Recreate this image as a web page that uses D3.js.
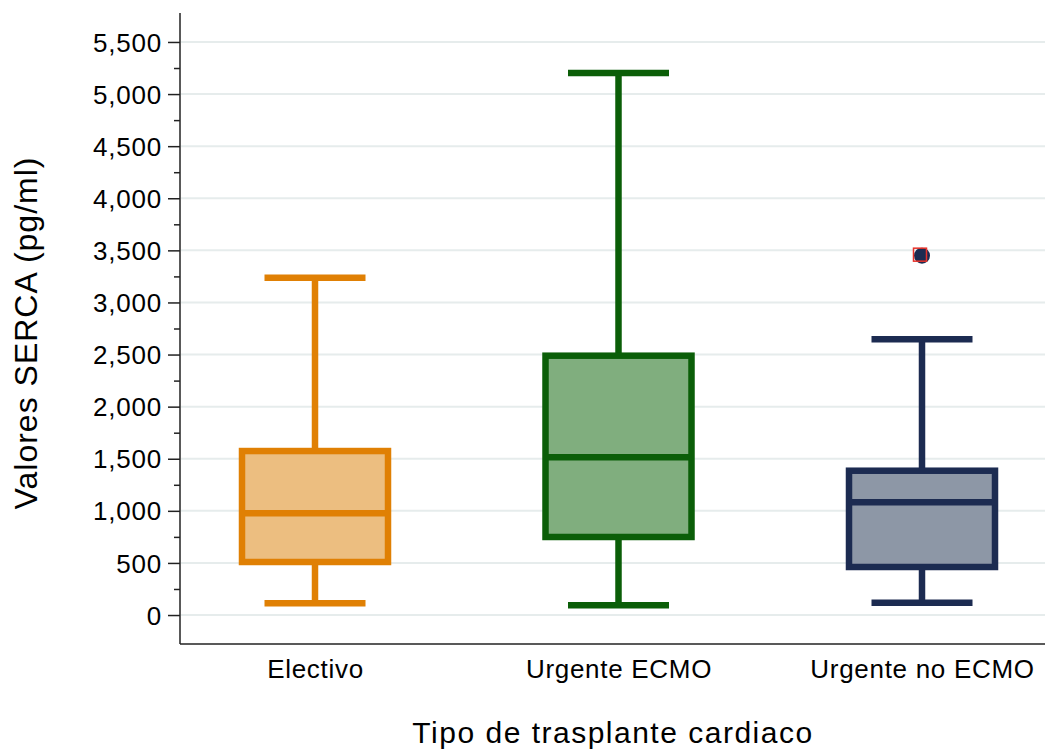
<!DOCTYPE html>
<html><head><meta charset="utf-8">
<script src="https://cdn.jsdelivr.net/npm/d3@7"></script>
<style>
body{margin:0;background:#fff;}
svg{display:block;font-family:"Liberation Sans",Arial,Helvetica,sans-serif;}
</style></head>
<body><svg id="c" width="1045" height="751"></svg>
<script>
const categories = ["Electivo", "Urgente ECMO", "Urgente no ECMO"];
const lowerWhisker = [112, 93, 118];
const q1 = [509, 749, 461];
const median = [976, 1514, 1082];
const q3 = [1574, 2489, 1385];
const upperWhisker = [3238, 5203, 2646];
const outliers = [[], [], [3449]];
const strokeColors = ["#E08004", "#0B5E08", "#1C2B51"];
const fillColors = ["#ECBE80", "#80AE7E", "#8D97A6"];
const yTicks = [0, 500, 1000, 1500, 2000, 2500, 3000, 3500, 4000, 4500, 5000, 5500];
const yMinorTicks = [250, 750, 1250, 1750, 2250, 2750, 3250, 3750, 4250, 4750, 5250];
const xTitle = "Tipo de trasplante cardiaco";
const yTitle = "Valores SERCA (pg/ml)";

const svg = d3.select("#c");
const mLeft = 180, mRight = 1045, mTop = 13, mBottom = 644;
const y = d3.scaleLinear().domain([-278, 5778]).range([mBottom, mTop]);
const x = d3.scalePoint().domain(categories).range([315, 922]);

// gridlines
svg.append("g").selectAll("line").data(yTicks).join("line")
  .attr("x1", mLeft + 1).attr("x2", mRight)
  .attr("y1", d => y(d)).attr("y2", d => y(d))
  .attr("stroke", "#e6ecec").attr("stroke-width", 2);

// y axis minor ticks
svg.append("g").attr("transform", `translate(${mLeft},0)`)
  .call(d3.axisLeft(y).tickValues(yMinorTicks).tickSize(6).tickFormat(""))
  .call(g => g.select(".domain").remove())
  .call(g => g.selectAll("line").attr("stroke", "#222").attr("stroke-width", 1.5));

// y axis major
svg.append("g").attr("transform", `translate(${mLeft},0)`)
  .call(d3.axisLeft(y).tickValues(yTicks).tickSize(12).tickPadding(6).tickFormat(d3.format(",")))
  .call(g => g.select(".domain").remove())
  .call(g => g.selectAll("line").attr("stroke", "#222").attr("stroke-width", 1.5))
  .call(g => g.selectAll("text").attr("font-size", 26).attr("fill", "#000")
    .attr("font-family", "'Liberation Sans',Arial,sans-serif").attr("letter-spacing", "0.8px").attr("dy", "0.35em"));

// axis lines
svg.append("line").attr("x1", mLeft).attr("x2", mLeft).attr("y1", mTop).attr("y2", mBottom)
  .attr("stroke", "#222").attr("stroke-width", 1.5);
svg.append("line").attr("x1", mLeft).attr("x2", mRight).attr("y1", mBottom).attr("y2", mBottom)
  .attr("stroke", "#222").attr("stroke-width", 1.5);

// x axis labels
svg.append("g").attr("transform", `translate(0,${mBottom})`)
  .call(d3.axisBottom(x).tickSize(0).tickPadding(16))
  .call(g => g.select(".domain").remove())
  .call(g => g.selectAll("text").attr("font-size", 26).attr("fill", "#000")
    .attr("font-family", "'Liberation Sans',Arial,sans-serif").attr("letter-spacing", "0.7px"));

// boxes
const boxW = 146, capW = 101, sw = 6.5;
const data = categories.map((c, i) => ({c, i}));
const gb = svg.append("g");
data.forEach(({c, i}) => {
  const cx = x(c);
  const g = gb.append("g");
  g.append("line").attr("x1", cx).attr("x2", cx).attr("y1", y(q3[i])).attr("y2", y(upperWhisker[i]))
    .attr("stroke", strokeColors[i]).attr("stroke-width", sw);
  g.append("line").attr("x1", cx).attr("x2", cx).attr("y1", y(q1[i])).attr("y2", y(lowerWhisker[i]))
    .attr("stroke", strokeColors[i]).attr("stroke-width", sw);
  [upperWhisker[i], lowerWhisker[i]].forEach(v => {
    g.append("line").attr("x1", cx - capW / 2).attr("x2", cx + capW / 2).attr("y1", y(v)).attr("y2", y(v))
      .attr("stroke", strokeColors[i]).attr("stroke-width", sw);
  });
  g.append("rect").attr("x", cx - boxW / 2).attr("width", boxW)
    .attr("y", y(q3[i])).attr("height", y(q1[i]) - y(q3[i]))
    .attr("fill", fillColors[i]).attr("stroke", strokeColors[i]).attr("stroke-width", sw);
  g.append("line").attr("x1", cx - boxW / 2).attr("x2", cx + boxW / 2).attr("y1", y(median[i])).attr("y2", y(median[i]))
    .attr("stroke", strokeColors[i]).attr("stroke-width", sw);
  outliers[i].forEach(v => {
    g.append("circle").attr("cx", cx).attr("cy", y(v)).attr("r", 8).attr("fill", strokeColors[i]);
    g.append("rect").attr("x", cx - 8.5).attr("y", y(v) - 7.5).attr("width", 13).attr("height", 13)
      .attr("fill", "none").attr("stroke", "#e8322a").attr("stroke-width", 1.5);
  });
});

// titles
svg.append("text").attr("x", 613).attr("y", 743).attr("text-anchor", "middle")
  .attr("font-size", 30).attr("letter-spacing", "1.5px").attr("fill", "#000").text(xTitle);
svg.append("text").attr("transform", "translate(37,333) rotate(-90)").attr("text-anchor", "middle")
  .attr("font-size", 32).attr("letter-spacing", "1px").attr("fill", "#000").text(yTitle);
</script></body></html>
